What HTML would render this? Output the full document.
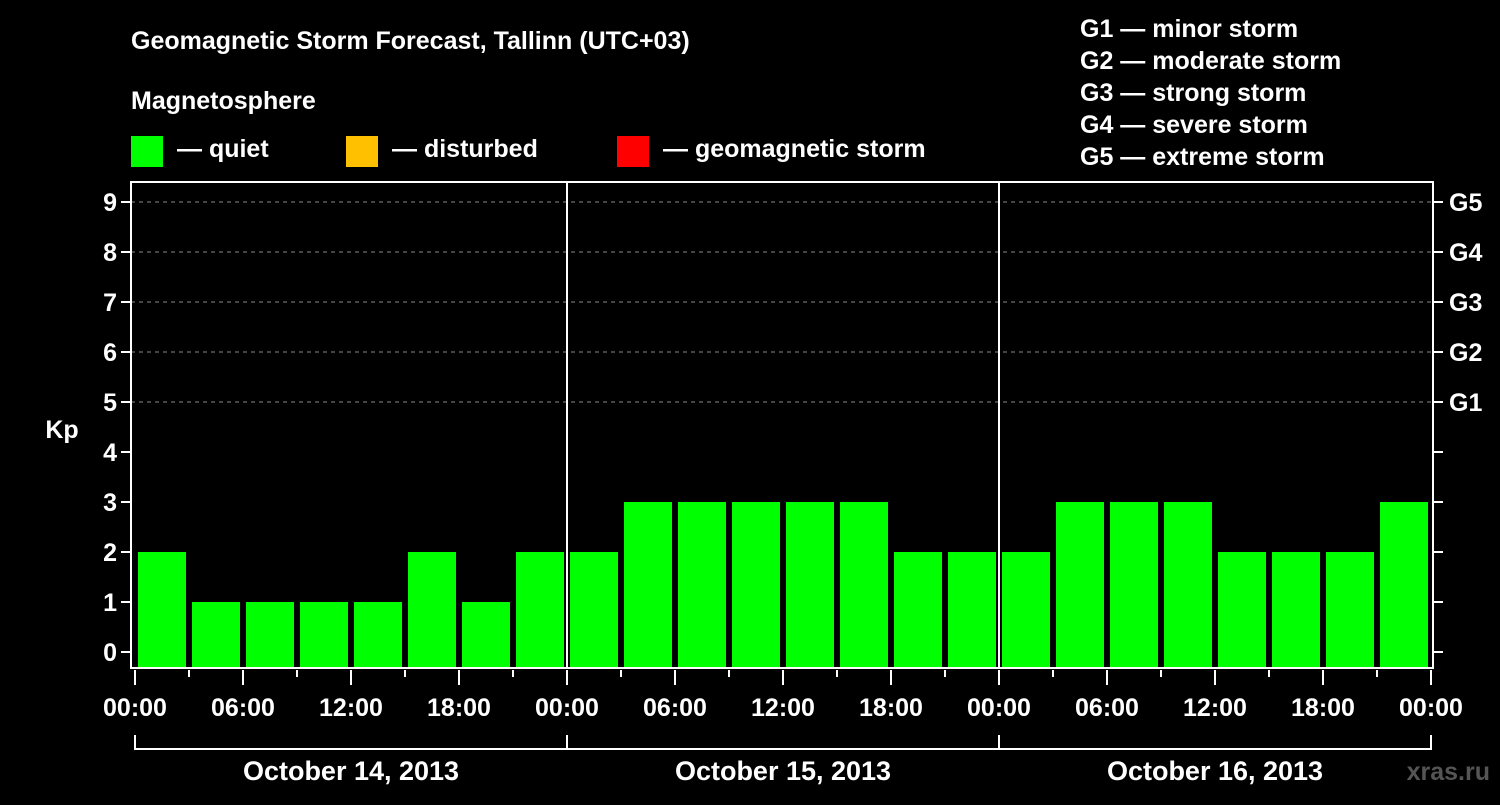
<!DOCTYPE html>
<html><head><meta charset="utf-8"><style>
html,body{margin:0;padding:0;background:#000;}
svg text{font-family:"Liberation Sans",Arial,sans-serif;font-weight:bold;fill:#fff;}
</style></head><body>
<svg id="c" width="1500" height="800" viewBox="0 0 1500 800">
<rect x="0" y="0" width="1500" height="800" fill="#000"/>
<text x="131" y="49" font-size="25">Geomagnetic Storm Forecast, Tallinn (UTC+03)</text>
<text x="131" y="109" font-size="25">Magnetosphere</text>
<rect x="131" y="136" width="32" height="31" fill="#00ff00"/>
<text x="177" y="157" font-size="25">— quiet</text>
<rect x="346" y="136" width="32" height="31" fill="#ffc000"/>
<text x="392" y="157" font-size="25">— disturbed</text>
<rect x="617" y="136" width="32" height="31" fill="#ff0000"/>
<text x="663" y="157" font-size="25">— geomagnetic storm</text>
<g font-size="25">
<text x="1080" y="37">G1 — minor storm</text>
<text x="1080" y="69">G2 — moderate storm</text>
<text x="1080" y="101">G3 — strong storm</text>
<text x="1080" y="133">G4 — severe storm</text>
<text x="1080" y="165">G5 — extreme storm</text>
</g>
<text x="62" y="438" font-size="25" text-anchor="middle">Kp</text>
<text x="1490" y="780" font-size="25" text-anchor="end" fill="#666" style="fill:#555">xras.ru</text>
<g id="plot"></g>
</svg>
<script>
const kpValues = [2,1,1,1,1,2,1,2, 2,3,3,3,3,3,2,2, 2,3,3,3,2,2,2,3];
const yTicks = [0,1,2,3,4,5,6,7,8,9];
const gLabels = ["G1","G2","G3","G4","G5"];
const gLevels = [5,6,7,8,9];
const xTickLabels = ["00:00","06:00","12:00","18:00","00:00","06:00","12:00","18:00","00:00","06:00","12:00","18:00","00:00"];
const dayLabels = ["October 14, 2013","October 15, 2013","October 16, 2013"];

const NS="http://www.w3.org/2000/svg";
const plot=document.getElementById('plot');
const X0=135, DAYW=432, L=131, R=1433, T=182, B=668;
const xs=h=>X0+h*DAYW/24;
const ys=v=>652-v*50;
function mk(tag,attrs,parent){const e=document.createElementNS(NS,tag);for(const k in attrs)e.setAttribute(k,attrs[k]);(parent||plot).appendChild(e);return e;}
function color(v){return v<4?'#00ff00':(v<5?'#ffc000':'#ff0000');}

// grid
gLevels.forEach((g,i)=>{
  const l=mk('line',{x1:L,x2:R,y1:ys(g),y2:ys(g),stroke:'#888','stroke-dasharray':'4,4','stroke-width':1});
  
  
});
// bars
kpValues.forEach((v,i)=>{
  const x=xs(i*3)+3;
  const r=mk('rect',{x:x,y:ys(v),width:xs(3)-xs(0)-6,height:B-ys(v),fill:color(v)});
  
  
});
// frame
const fr=mk('rect',{x:L,y:T,width:R-L,height:B-T,fill:'none',stroke:'#fff','stroke-width':2});


[1,2].forEach(d=>{
  const l=mk('line',{x1:xs(24*d),x2:xs(24*d),y1:T,y2:B,stroke:'#fff','stroke-width':2});
  
  
});
// y ticks
yTicks.forEach(v=>{
  mk('line',{x1:L-10,x2:L,y1:ys(v),y2:ys(v),stroke:'#fff','stroke-width':2});
  mk('line',{x1:R,x2:R+10,y1:ys(v),y2:ys(v),stroke:'#fff','stroke-width':2});
  const t=mk('text',{x:L-14,y:ys(v)+9,'font-size':25,'text-anchor':'end'});
  t.textContent=v;
  
  
});
gLabels.forEach((g,i)=>{
  const t=mk('text',{x:1449,y:ys(gLevels[i])+9,'font-size':25});
  t.textContent=g;
  
  
});
// x ticks
for(let h=0;h<=72;h+=3){
  const major=h%6===0;
  mk('line',{x1:xs(h),x2:xs(h),y1:B+2,y2:B+(major?17:9),stroke:'#fff','stroke-width':2});
}
xTickLabels.forEach((s,i)=>{
  const t=mk('text',{x:xs(i*6),y:716,'font-size':25,'text-anchor':'middle'});
  t.textContent=s;
  
  
});
// day brackets
mk('line',{x1:xs(0),x2:xs(72),y1:749,y2:749,stroke:'#fff','stroke-width':2});
for(let d=0;d<=3;d++) mk('line',{x1:xs(24*d),x2:xs(24*d),y1:735,y2:750,stroke:'#fff','stroke-width':2});
dayLabels.forEach((s,i)=>{
  const t=mk('text',{x:xs(24*i+12),y:780,'font-size':27,'text-anchor':'middle'});
  t.textContent=s;
  
  
});
</script>
</body></html>
